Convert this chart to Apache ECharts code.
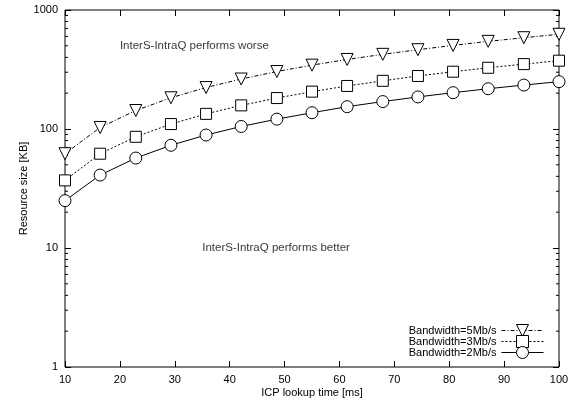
<!DOCTYPE html>
<html>
<head>
<meta charset="utf-8">
<script src="https://cdn.jsdelivr.net/npm/echarts@6/dist/echarts.min.js"></script>
<style>
  html, body { margin: 0; padding: 0; background: #fff; }
  #main { width: 579px; height: 404px; }
</style>
</head>
<body>
<div id="main"></div>
<script>
// ---------------------------------
// Data
// ---------------------------------
const lookupTime = [10, 16.4, 22.9, 29.3, 35.7, 42.1, 48.6, 55, 61.4, 67.9, 74.3, 80.7, 87.1, 93.6, 100];
const bw5 = [62, 103, 143, 183, 223, 263, 304, 344, 384, 424, 464, 504, 545, 585, 625];
const bw3 = [37, 62, 86, 110, 134, 158, 182, 206, 230, 254, 279, 303, 327, 351, 375];
const bw2 = [25, 41, 57, 73, 89, 105, 121, 137, 154, 170, 186, 202, 218, 234, 250];

const seriesNames = ['Bandwidth=5Mb/s', 'Bandwidth=3Mb/s', 'Bandwidth=2Mb/s'];

// log minor ticks (gnuplot style)
const minorTicks = [2, 3, 4, 5, 6, 7, 8, 9, 20, 30, 40, 50, 60, 70, 80, 90, 200, 300, 400, 500, 600, 700, 800, 900];

// text labels inside the plot: [x, y, text]
const notes = [
  [20, 500, 'InterS-IntraQ performs worse'],
  [35, 10, 'InterS-IntraQ performs better']
];

const FONT = 'Liberation Sans, Arial, sans-serif';

function pairs(ys) {
  return ys.map((y, i) => [lookupTime[i], y]);
}

function lineSeries(name, ys, symbol, size, rotate, dash) {
  return {
    name: name,
    type: 'line',
    data: pairs(ys),
    symbol: symbol,
    symbolSize: size,
    symbolRotate: rotate,
    showAllSymbol: true,
    lineStyle: { color: '#000', width: 1, type: dash },
    itemStyle: { color: '#fff', borderColor: '#000', borderWidth: 1 },
    emphasis: { disabled: true },
    z: 3
  };
}

const tickCommon = {
  axisLine: { show: false },
  splitLine: { show: false },
  axisTick: { show: true, inside: true, length: 6, lineStyle: { color: '#000' } }
};

var chart = echarts.init(document.getElementById('main'));

var option = {
  animation: false,
  textStyle: { fontFamily: FONT },
  grid: {
    left: 65, right: 20, top: 10, bottom: 37,
    show: true, borderColor: '#000', borderWidth: 1
  },
  legend: {
    data: seriesNames,
    orient: 'vertical',
    align: 'right',
    right: 35,
    top: 324,
    padding: 0,
    itemGap: -2,
    itemWidth: 42,
    itemHeight: 15,
    lineStyle: { width: 1 },
    itemStyle: { borderWidth: 1 },
    textStyle: { fontSize: 11, color: '#000', fontFamily: FONT }
  },
  xAxis: [
    Object.assign({
      type: 'value', min: 10, max: 100, interval: 10,
      name: 'ICP lookup time [ms]',
      nameLocation: 'middle',
      nameGap: 20,
      nameMoveOverlap: false,
      nameTextStyle: { fontSize: 11, color: '#000', fontFamily: FONT },
      axisLabel: { fontSize: 11, color: '#000', margin: 7, fontFamily: FONT }
    }, tickCommon),
    Object.assign({
      type: 'value', min: 10, max: 100, interval: 10, position: 'top',
      axisLabel: { show: false }
    }, tickCommon)
  ],
  yAxis: [
    Object.assign({
      type: 'log', logBase: 10, min: 1, max: 1000,
      name: 'Resource size [KB]',
      nameLocation: 'middle',
      nameGap: 36,
      nameMoveOverlap: false,
      nameTextStyle: { fontSize: 11, color: '#000', fontFamily: FONT },
      axisLabel: { fontSize: 11, color: '#000', margin: 7, fontFamily: FONT, formatter: v => String(v) }
    }, tickCommon),
    Object.assign({
      type: 'log', logBase: 10, min: 1, max: 1000, position: 'right',
      axisLabel: { show: false }
    }, tickCommon)
  ],
  series: [
    lineSeries(seriesNames[0], bw5, 'triangle', 12, 180, [4, 2, 1, 2]),
    lineSeries(seriesNames[1], bw3, 'rect', 11, 0, [2, 2]),
    lineSeries(seriesNames[2], bw2, 'circle', 12, 0, 'solid'),
    {
      // minor log ticks on left and right borders
      name: 'minor',
      type: 'custom',
      silent: true,
      data: minorTicks.map(v => [10, v]),
      renderItem: function (params, api) {
        const v = api.value(1);
        const l = api.coord([10, v]);
        const r = api.coord([100, v]);
        return {
          type: 'group',
          children: [
            { type: 'line', shape: { x1: l[0], y1: l[1], x2: l[0] + 3, y2: l[1] }, style: { stroke: '#000', lineWidth: 1 } },
            { type: 'line', shape: { x1: r[0], y1: r[1], x2: r[0] - 3, y2: r[1] }, style: { stroke: '#000', lineWidth: 1 } }
          ]
        };
      },
      z: 1
    },
    {
      name: 'notes',
      type: 'scatter',
      silent: true,
      symbolSize: 0,
      data: notes,
      label: {
        show: true,
        position: 'right',
        distance: 0,
        color: '#000',
        fontSize: 11.5,
        fontFamily: FONT,
        formatter: p => p.value[2]
      },
      z: 2
    }
  ]
};

chart.setOption(option);
</script>
</body>
</html>
